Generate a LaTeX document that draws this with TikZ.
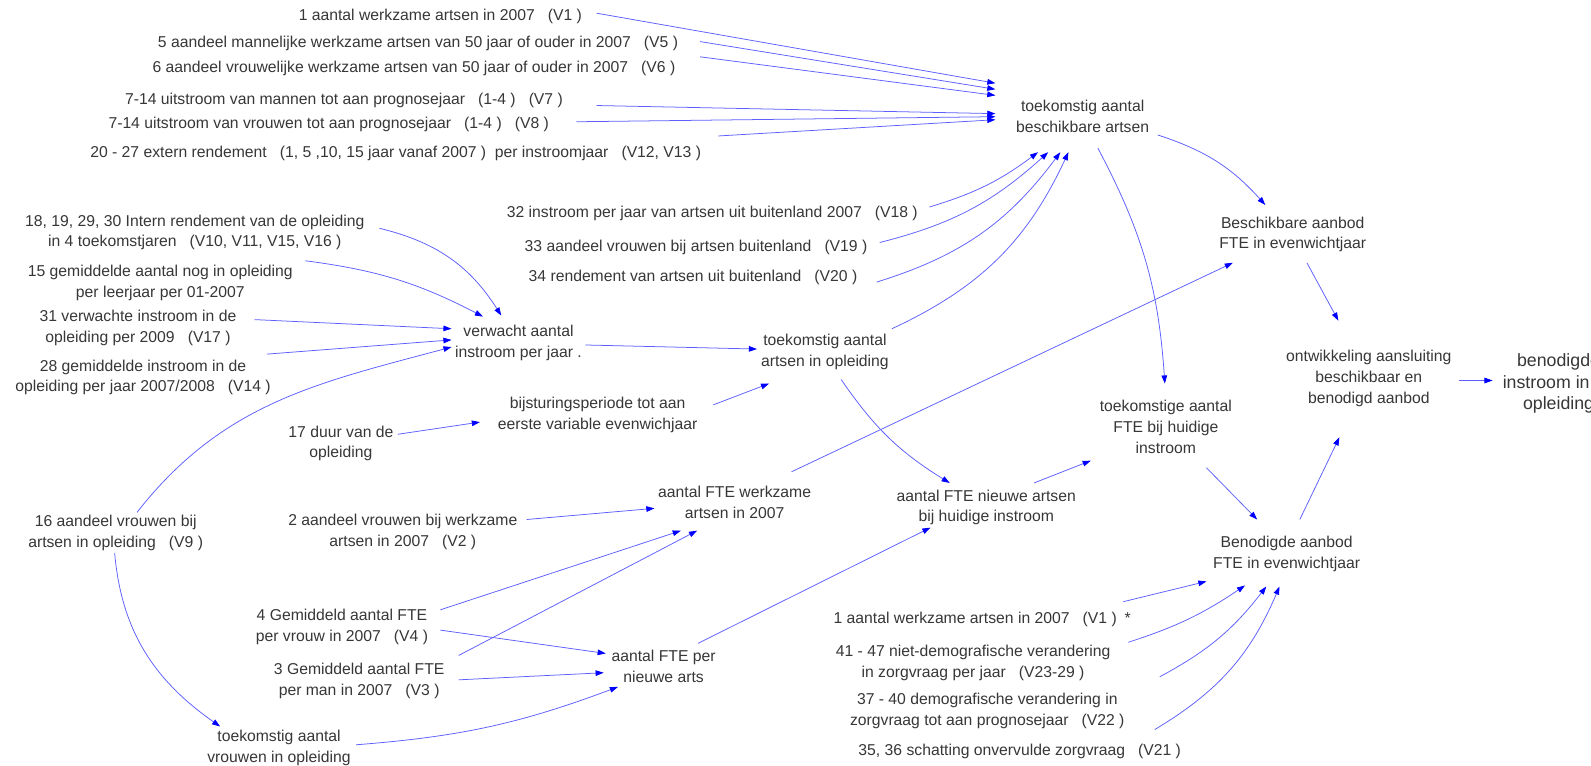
\documentclass[tikz,border=0pt]{standalone}
\usepackage{fontspec}
\setmainfont{Liberation Sans}
\usetikzlibrary{arrows.meta,calc}
\definecolor{txt}{RGB}{55,55,55}
\definecolor{ln}{RGB}{95,95,255}
\definecolor{hd}{RGB}{0,0,255}
\newcommand{\sgap}{\hspace{0.83em}}
\begin{document}
\begin{tikzpicture}[x=1pt,y=1pt,
  lbl/.style={font=\fontsize{15.5}{20.5}\selectfont, text=txt, align=center, inner sep=0pt},
  biglbl/.style={lbl, font=\fontsize{17.5}{21.5}\selectfont},
  conn/.style={draw=ln, line width=0.75pt, -{Triangle[length=8pt,width=5.5pt,color=hd]}}]
\fill[white] (0,0) rectangle (1568,-754);
\clip (0,0) rectangle (1568,-754);

% top-left sources
\node[lbl] (A1) at (434,-16) {1 aantal werkzame artsen in 2007\sgap(V1 )};
\node[lbl] (A5) at (412,-43) {5 aandeel mannelijke werkzame artsen van 50 jaar of ouder in 2007\sgap(V5 )};
\node[lbl] (A6) at (408,-67) {6 aandeel vrouwelijke werkzame artsen van 50 jaar of ouder in 2007\sgap(V6 )};
\node[lbl] (A7) at (339,-99) {7-14 uitstroom van mannen tot aan prognosejaar\sgap(1-4 )\sgap(V7 )};
\node[lbl] (A8) at (324,-123) {7-14 uitstroom van vrouwen tot aan prognosejaar\sgap(1-4 )\sgap(V8 )};
\node[lbl] (A20) at (390,-151) {20 - 27 extern rendement\sgap(1, 5 ,10, 15 jaar vanaf 2007 )\hspace{0.55em}per instroomjaar\sgap(V12, V13 )};

\node[lbl] (T1) at (1067,-115) {toekomstig aantal\\beschikbare artsen};

\node[lbl] (V18) at (702,-210) {32 instroom per jaar van artsen uit buitenland 2007\sgap(V18 )};
\node[lbl] (V19) at (686,-244) {33 aandeel vrouwen bij artsen buitenland\sgap(V19 )};
\node[lbl] (V20) at (683,-273) {34 rendement van artsen uit buitenland\sgap(V20 )};

\node[lbl] (B1) at (1274,-231) {Beschikbare aanbod\\FTE in evenwichtjaar};
\node[lbl] (Ontw) at (1349,-373) {ontwikkeling aansluiting\\beschikbaar en\\benodigd aanbod};
\node[biglbl] (BI) at (1536,-378) {benodigde\\instroom in de\\opleiding};
\node[lbl] (TF) at (1149,-421) {toekomstige aantal\\FTE bij huidige\\instroom};
\node[lbl] (BA) at (1268,-546) {Benodigde aanbod\\FTE in evenwichtjaar};

\node[lbl] (V1b) at (968,-610) {1 aantal werkzame artsen in 2007\sgap(V1 )\hspace{0.5em}*};
\node[lbl] (V41) at (959,-653) {41 - 47 niet-demografische verandering\\in zorgvraag per jaar\sgap(V23-29 )};
\node[lbl] (V37) at (973,-701) {37 - 40 demografische verandering in\\zorgvraag tot aan prognosejaar\sgap(V22 )};
\node[lbl] (V35) at (1005,-741) {35, 36 schatting onvervulde zorgvraag\sgap(V21 )};

% left middle
\node[lbl] (IR) at (192,-229) {18, 19, 29, 30 Intern rendement van de opleiding\\in 4 toekomstjaren\sgap(V10, V11, V15, V16 )};
\node[lbl] (G15) at (158,-279) {15 gemiddelde aantal nog in opleiding\\per leerjaar per 01-2007};
\node[lbl] (V31) at (136,-323) {31 verwachte instroom in de\\opleiding per 2009\sgap(V17 )};
\node[lbl] (V28) at (141,-372) {28 gemiddelde instroom in de\\opleiding per jaar 2007/2008\sgap(V14 )};
\node[lbl] (VI) at (511,-338) {verwacht aantal\\instroom per jaar .};
\node[lbl] (T2) at (813,-347) {toekomstig aantal\\artsen in opleiding};
\node[lbl] (BP) at (589,-409) {bijsturingsperiode tot aan\\eerste variable evenwichjaar};
\node[lbl] (D17) at (336,-437) {17 duur van de\\opleiding};
\node[lbl] (V16) at (114,-525) {16 aandeel vrouwen bij\\artsen in opleiding\sgap(V9 )};

% bottom
\node[lbl] (AW) at (724,-495) {aantal FTE werkzame\\artsen in 2007};
\node[lbl] (S2) at (397,-524) {2 aandeel vrouwen bij werkzame\\artsen in 2007\sgap(V2 )};
\node[lbl] (AN) at (972,-500) {aantal FTE nieuwe artsen\\bij huidige instroom};
\node[lbl] (G4) at (337,-618) {4 Gemiddeld aantal FTE\\per vrouw in 2007\sgap(V4 )};
\node[lbl] (G3) at (354,-671) {3 Gemiddeld aantal FTE\\per man in 2007\sgap(V3 )};
\node[lbl] (AF) at (654,-657) {aantal FTE per\\nieuwe arts};
\node[lbl] (TV) at (275,-737) {toekomstig aantal\\vrouwen in opleiding};

% connectors into T1
\draw[conn] ($(A1)+(154,3)$) -- ($(T1)+(-86,33)$);
\draw[conn] ($(A5)+(278,2)$) -- ($(T1)+(-86,27)$);
\draw[conn] ($(A6)+(282,11)$) -- ($(T1)+(-86,21)$);
\draw[conn] ($(A7)+(249,-5)$) -- ($(T1)+(-86,3)$);
\draw[conn] ($(A8)+(244,3)$) -- ($(T1)+(-86,0)$);
\draw[conn] ($(A20)+(318,17)$) -- ($(T1)+(-86,-3)$);
\draw[conn] ($(V18)+(214,6)$) to[bend right=10] ($(T1)+(-44,-35)$);
\draw[conn] ($(V19)+(181,5)$) to[bend right=14] ($(T1)+(-34,-35)$);
\draw[conn] ($(V20)+(181,-5)$) to[bend right=18] ($(T1)+(-22,-35)$);
\draw[conn] ($(T2)+(66,23)$) to[bend right=20] ($(T1)+(-14,-35)$);

% from T1
\draw[conn] ($(T1)+(74,-18)$) to[bend left=15] ($(B1)+(-27,29)$);
\draw[conn] ($(T1)+(15,-31)$) to[bend left=12] ($(TF)+(-1,43)$);
\draw[conn] ($(B1)+(14,-28)$) -- ($(Ontw)+(-30,57)$);
\draw[conn] ($(Ontw)+(89,-2)$) -- ($(BI)+(-65,3)$);
\draw[conn] ($(TF)+(40,-40)$) -- ($(BA)+(-29,34)$);
\draw[conn] ($(BA)+(13,34)$) -- ($(Ontw)+(-29,-58)$);

% into BA
\draw[conn] ($(V1b)+(139,17)$) -- ($(BA)+(-79,-27)$);
\draw[conn] ($(V41)+(153,20)$) to[bend right=8] ($(BA)+(-41,-31)$);
\draw[conn] ($(V37)+(170,34)$) to[bend right=12] ($(BA)+(-20,-32)$);
\draw[conn] ($(V35)+(133,22)$) to[bend right=18] ($(BA)+(-7,-32)$);

% into VI
\draw[conn] ($(IR)+(182,4)$) to[bend left=22] ($(VI)+(-17,27)$);
\draw[conn] ($(G15)+(143,22)$) to[bend left=10] ($(VI)+(-35,26)$);
\draw[conn] ($(V31)+(115,8)$) -- ($(VI)+(-66,14)$);
\draw[conn] ($(V28)+(122,23)$) -- ($(VI)+(-66,3)$);
\draw[conn] ($(V16)+(21,20)$) to[out=52,in=195] ($(VI)+(-66,-4)$);
\draw[conn] ($(V16)+(-1,-20)$) to[out=-85,in=145] ($(TV)+(-58,21)$);

\draw[conn] ($(VI)+(66,-2)$) -- ($(T2)+(-67,3)$);
\draw[conn] ($(T2)+(16,-27)$) to[bend right=12] ($(AN)+(-36,24)$);
\draw[conn] ($(BP)+(114,10)$) -- ($(T2)+(-55,-31)$);
\draw[conn] ($(D17)+(56,9)$) -- ($(BP)+(-116,-7)$);

% bottom
\draw[conn] ($(S2)+(122,12)$) -- ($(AW)+(-79,-6)$);
\draw[conn] ($(G4)+(97,17)$) -- ($(AW)+(-53,-28)$);
\draw[conn] ($(G3)+(98,25)$) -- ($(AW)+(-37,-28)$);
\draw[conn] ($(G4)+(97,-3)$) -- ($(AF)+(-57,13)$);
\draw[conn] ($(G3)+(98,1)$) -- ($(AF)+(-59,-6)$);
\draw[conn] ($(TV)+(76,3)$) to[bend right=8] ($(AF)+(-45,-20)$);
\draw[conn] ($(AF)+(34,23)$) -- ($(AN)+(-55,-20)$);
\draw[conn] ($(AW)+(56,30)$) -- ($(B1)+(-59,-28)$);
\draw[conn] ($(AN)+(47,24)$) -- ($(TF)+(-74,-33)$);
\end{tikzpicture}
\end{document}
